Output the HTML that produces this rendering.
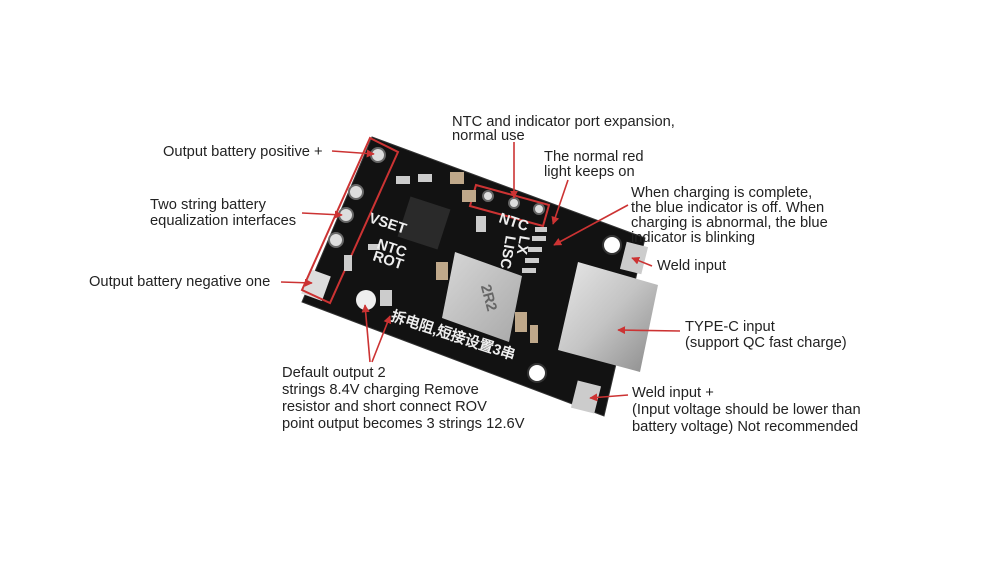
<!DOCTYPE html>
<html><head><style>
body{margin:0;background:#fff;width:993px;height:586px;overflow:hidden}
svg{display:block}
text{font-family:"Liberation Sans",Arial,sans-serif;fill:#222;font-size:14.7px}
</style></head><body>
<svg width="993" height="586" viewBox="0 0 993 586">
<defs>
<linearGradient id="sil" x1="0" y1="0" x2="1" y2="1"><stop offset="0" stop-color="#e8e8e8"/><stop offset=".5" stop-color="#c4c4c4"/><stop offset="1" stop-color="#8a8a8a"/></linearGradient>
<linearGradient id="ind" x1="0" y1="0" x2="1" y2="1"><stop offset="0" stop-color="#d8d8d8"/><stop offset="1" stop-color="#a8a8a8"/></linearGradient>
<marker id="ar" viewBox="0 0 10 10" refX="9" refY="5" markerWidth="5" markerHeight="5" orient="auto"><path d="M0,0L10,5L0,10z" fill="#c33"/></marker>
</defs>
<polygon points="372,137 645,238 604,416 302,302" fill="#121212" stroke="#333" stroke-width="1"/>
<g fill="#ddd" stroke="#666" stroke-width="2">
<circle cx="378" cy="155" r="7"/><circle cx="356" cy="192" r="7"/><circle cx="346" cy="215" r="7"/><circle cx="336" cy="240" r="7"/>
<circle cx="612" cy="245" r="9" fill="#fff" stroke="#333"/><circle cx="537" cy="373" r="9" fill="#fff" stroke="#333"/>
<circle cx="488" cy="196" r="5"/><circle cx="514" cy="203" r="5"/><circle cx="539" cy="209" r="5"/>
</g>
<rect x="305" y="272" width="22" height="26" fill="#ddd" transform="rotate(20 316 285)"/>
<rect x="623" y="244" width="22" height="28" fill="#ccc" transform="rotate(14 634 258)"/>
<rect x="574" y="383" width="24" height="28" fill="#ccc" transform="rotate(14 586 397)"/>
<g fill="none" stroke="#c33" stroke-width="2">
<polygon points="370,138 398,152 330,303 302,290"/>
<polygon points="476,185 549,205 543,226 470,206"/>
</g>
<rect x="403" y="202" width="42" height="42" fill="#2a2a2a" transform="rotate(18 424 223)"/>
<polygon points="455,252 522,276 509,342 442,318" fill="url(#ind)"/>
<text x="470" y="290" font-size="18" transform="rotate(75 478 295)" style="fill:#666;font-weight:bold">2R2</text>
<g fill="#bfa88a"><rect x="450" y="172" width="14" height="12"/><rect x="462" y="190" width="14" height="12"/><rect x="436" y="262" width="12" height="18"/><rect x="515" y="312" width="12" height="20"/><rect x="530" y="325" width="8" height="18"/></g>
<g fill="#ccc"><rect x="396" y="176" width="14" height="8"/><rect x="418" y="174" width="14" height="8"/><rect x="368" y="244" width="12" height="6"/><rect x="344" y="255" width="8" height="16"/><rect x="380" y="290" width="12" height="16"/><rect x="535" y="227" width="12" height="5"/><rect x="532" y="236" width="14" height="5"/><rect x="528" y="247" width="14" height="5"/><rect x="525" y="258" width="14" height="5"/><rect x="522" y="268" width="14" height="5"/><rect x="476" y="216" width="10" height="16"/></g>
<polygon points="578,262 658,285 640,372 558,350" fill="url(#sil)"/>
<g style="fill:#eee;font-weight:bold" font-size="10">
<text x="368" y="222" font-size="14" style="fill:#eee" transform="rotate(18 368 222)">VSET</text>
<text x="376" y="248" font-size="14" style="fill:#eee" transform="rotate(18 376 248)">NTC</text>
<text x="372" y="260" font-size="14" style="fill:#eee" transform="rotate(18 372 260)">ROT</text>
<text x="498" y="222" font-size="14" style="fill:#eee" transform="rotate(18 498 222)">NTC</text>
<text x="520" y="235" font-size="13" style="fill:#eee" transform="rotate(100 520 235)">LX</text>
<text x="506" y="235" font-size="13" style="fill:#eee" transform="rotate(100 506 235)">LISC</text>
<text x="390" y="320" font-size="13" style="fill:#eee" transform="rotate(18 390 320)">拆电阻,短接设置3串</text>
</g>
<circle cx="366" cy="300" r="10" fill="#eee"/>
<g stroke="#c33" stroke-width="1.6" fill="none" marker-end="url(#ar)">
<line x1="332" y1="151" x2="374" y2="154"/>
<line x1="302" y1="213" x2="342" y2="215"/>
<line x1="281" y1="282" x2="312" y2="283"/>
<line x1="514" y1="142" x2="514" y2="198"/>
<line x1="568" y1="180" x2="553" y2="224"/>
<line x1="628" y1="205" x2="554" y2="245"/>
<line x1="652" y1="266" x2="632" y2="258"/>
<line x1="680" y1="331" x2="618" y2="330"/>
<line x1="628" y1="395" x2="590" y2="398"/>
<line x1="370" y1="362" x2="365" y2="305"/>
<line x1="372" y1="362" x2="390" y2="316"/>
</g>
<text x="163" y="156">Output battery positive +</text>
<text x="150" y="209">Two string battery</text>
<text x="150" y="225">equalization interfaces</text>
<text x="89" y="286">Output battery negative one</text>
<text x="452" y="126">NTC and indicator port expansion,</text>
<text x="452" y="140">normal use</text>
<text x="544" y="161">The normal red</text>
<text x="544" y="176">light keeps on</text>
<text x="631" y="197">When charging is complete,</text>
<text x="631" y="212">the blue indicator is off. When</text>
<text x="631" y="227">charging is abnormal, the blue</text>
<text x="631" y="242">indicator is blinking</text>
<text x="657" y="270">Weld input</text>
<text x="685" y="331">TYPE-C input</text>
<text x="685" y="347">(support QC fast charge)</text>
<text x="632" y="397">Weld input +</text>
<text x="632" y="414">(Input voltage should be lower than</text>
<text x="632" y="431">battery voltage) Not recommended</text>
<text x="282" y="377">Default output 2</text>
<text x="282" y="394">strings 8.4V charging Remove</text>
<text x="282" y="411">resistor and short connect ROV</text>
<text x="282" y="428">point output becomes 3 strings 12.6V</text>
</svg>
</body></html>
